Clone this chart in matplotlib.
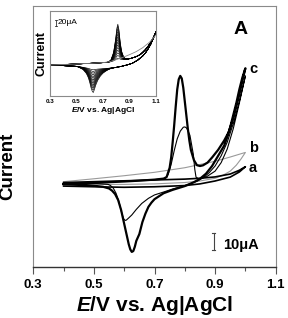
import numpy as np
import matplotlib
matplotlib.use("Agg")
import matplotlib.pyplot as plt

plt.rcParams['font.family'] = ['Liberation Sans', 'DejaVu Sans']
plt.rcParams['mathtext.fontset'] = 'custom'
plt.rcParams['mathtext.it'] = 'Liberation Sans:italic:bold'
plt.rcParams['mathtext.rm'] = 'Liberation Sans:bold'

# ---------------- main panel data (E in V, I in uA) ----------------
c_fwd_E = [0.40, 0.45, 0.50, 0.55, 0.60, 0.65, 0.70, 0.73, 0.74, 0.75, 0.755, 0.76, 0.765, 0.77,
           0.775, 0.78, 0.785, 0.79, 0.795, 0.80, 0.805, 0.81, 0.815, 0.82, 0.83, 0.84, 0.85,
           0.86, 0.875, 0.89, 0.91, 0.93, 0.945, 0.96, 0.97, 0.98, 0.99, 1.00]
c_fwd_I = [-0.5, -0.2, 0.1, 0.5, 0.9, 1.4, 2.0, 2.6, 3.5, 9, 15, 24, 34, 45,
           55, 61, 63, 61.5, 56, 48, 40, 32, 25, 19.5, 13.5, 10.5, 10,
           10.4, 12, 15, 19.5, 25, 30, 38, 45, 52, 60, 67.5]
c_rev_E = [1.00, 0.99, 0.98, 0.97, 0.96, 0.95, 0.94, 0.93, 0.91, 0.89, 0.87, 0.85, 0.83, 0.80,
           0.76, 0.73, 0.70, 0.69, 0.68, 0.67, 0.66, 0.65, 0.64, 0.635, 0.63, 0.625, 0.62,
           0.615, 0.61, 0.605, 0.60, 0.595, 0.59, 0.58, 0.57, 0.56, 0.55, 0.53, 0.50, 0.45, 0.40]
c_rev_I = [67.5, 62, 55, 47, 40, 33, 27, 22, 16, 10, 5.5, 2.5, 0.5, -1.8,
           -4, -6, -9.5, -11.5, -14, -18, -23, -30, -34, -37.5, -40, -40.5, -39,
           -36, -32, -28, -24, -20, -16, -10, -6.5, -4.5, -3.2, -2.2, -1.6, -1.1, -0.7]

t_fwd_E = [0.40, 0.50, 0.60, 0.70, 0.735, 0.745, 0.755, 0.765, 0.775, 0.785, 0.795, 0.80, 0.805,
           0.81, 0.817, 0.822, 0.828, 0.833, 0.837, 0.845, 0.87, 0.90, 0.92, 0.94, 0.96, 0.98, 1.00]
t_fwd_I = [-0.3, 0.3, 1.0, 2.0, 2.6, 5, 11, 19, 26, 30.5, 32.8, 33, 32.5,
           31, 28, 23, 17, 8, 3.5, 2.5, 3.5, 7, 12, 20, 32, 47, 63]
t_rev_E = [1.00, 0.98, 0.96, 0.94, 0.92, 0.90, 0.88, 0.86, 0.84, 0.80, 0.76, 0.735, 0.70, 0.68,
           0.658, 0.64, 0.625, 0.615, 0.607, 0.603, 0.598, 0.592, 0.587, 0.581, 0.573, 0.564,
           0.555, 0.547, 0.50, 0.40]
t_rev_I = [63, 48, 35, 24, 16, 10, 6, 3, 1, -1.5, -3.5, -5, -7, -9,
           -12, -15.5, -18.8, -20.5, -21.8, -22, -21, -17.8, -14, -10, -6, -3,
           -1.5, -0.8, -0.2, 0.0]

a_fwd_E = [0.40, 0.50, 0.60, 0.70, 0.80, 0.85, 0.90, 0.95, 0.98, 1.00]
a_fwd_I = [0.3, 0.8, 1.3, 1.8, 2.3, 2.8, 3.6, 5.3, 7.5, 9.6]
a_rev_E = [1.00, 0.98, 0.95, 0.90, 0.85, 0.80, 0.70, 0.60, 0.50, 0.40]
a_rev_I = [9.6, 6.5, 3.5, 1.2, -0.5, -1.5, -2.2, -2.5, -2.2, -1.8]

b_fwd_E = [0.40, 0.50, 0.60, 0.70, 0.80, 0.90, 0.95, 1.00]
b_fwd_I = [0.8, 2.5, 4.3, 6.3, 9.0, 12.8, 15.3, 18.0]
b_rev_E = [1.00, 0.985, 0.97, 0.95, 0.925, 0.90, 0.85, 0.80, 0.70, 0.60, 0.50, 0.40]
b_rev_I = [18.0, 14.0, 10.5, 7.0, 4.5, 2.8, 1.2, 0.3, -0.5, -0.8, -0.8, -0.6]

# ---------------- inset data ----------------
in_fwd_E = [0.30, 0.40, 0.50, 0.60, 0.70, 0.74, 0.76, 0.78, 0.795, 0.805, 0.812, 0.82, 0.83,
            0.84, 0.855, 0.87, 0.89, 0.92, 0.95, 0.98, 1.00, 1.02, 1.04, 1.06, 1.08, 1.10]
in_fwd_base = [0, 1.5, 3, 5, 7, 8.5, 9.5, 10.5, 11.3, 12, 12.4, 13, 13.7,
               14.5, 15.5, 16.5, 18, 21, 25, 31, 38, 46, 56, 68, 82, 100]
in_fwd_peak = [0, 0, 0, 0, 0, 0, 0.05, 0.25, 0.6, 0.9, 1.0, 0.85, 0.5,
               0.25, 0.08, 0.02, 0, 0, 0, 0, 0, 0, 0, 0, 0, 0]
in_rev_E = [1.10, 1.08, 1.06, 1.04, 1.02, 1.00, 0.96, 0.92, 0.88, 0.84, 0.80, 0.76, 0.74, 0.72,
            0.70, 0.68, 0.66, 0.645, 0.635, 0.627, 0.62, 0.61, 0.60, 0.59, 0.575, 0.55, 0.52,
            0.50, 0.40, 0.30]
in_rev_base = [100, 80, 62, 48, 36, 27, 14, 5, 0, -4, -7, -9, -9.5, -10,
               -10, -10, -9.8, -9.6, -9.5, -9.4, -9.2, -9, -8.6, -8.2, -7.6, -6.5, -5,
               -4, -2, -1]
in_rev_peak = [0, 0, 0, 0, 0, 0, 0, 0, 0, 0, 0, 0.02, 0.06, 0.12,
               0.2, 0.32, 0.5, 0.7, 0.88, 1.0, 0.97, 0.82, 0.6, 0.42, 0.25, 0.1, 0.03,
               0, 0, 0]
in_anodic_heights = [8, 16, 24, 32, 40, 48, 56, 64, 72, 80, 88, 96, 104, 110]
in_cathodic_depths = [5, 10, 15, 20, 25, 30, 35, 40, 45, 50, 55, 60, 66, 73]
in_first_E = [0.30, 0.50, 0.70, 0.75, 0.80, 0.85, 0.90, 0.95, 1.00, 1.05, 1.10]
in_first_I = [0, 3, 7, 10, 16, 23, 31, 40, 52, 68, 90]

x_major = [0.3, 0.5, 0.7, 0.9, 1.1]
x_minor = [0.4, 0.6, 0.8, 1.0]

# ---------------- figure ----------------
W, H = 288, 318
fig = plt.figure(figsize=(W / 100, H / 100), dpi=100)
ax = fig.add_axes([33.3 / W, 1 - 266.7 / H, (275.7 - 33.3) / W, (266.7 - 6) / H])
ax.set_xlim(0.3, 1.1)
ax.set_ylim(-49.2, 104.1)

ax.plot(b_fwd_E + b_rev_E, b_fwd_I + b_rev_I, color='#9a9a9a', lw=0.8)
ax.plot(a_fwd_E + a_rev_E, a_fwd_I + a_rev_I, color='black', lw=1.2)
ax.plot(t_fwd_E + t_rev_E, t_fwd_I + t_rev_I, color='black', lw=0.8)
ax.plot(c_fwd_E + c_rev_E, c_fwd_I + c_rev_I, color='black', lw=1.6)

for s in ['left', 'top', 'right']:
    ax.spines[s].set_color('#8a8a8a')
    ax.spines[s].set_linewidth(0.8)
ax.spines['bottom'].set_color('#333333')
ax.spines['bottom'].set_linewidth(1.0)
ax.set_yticks([])
ax.set_xticks(x_major)
ax.set_xticks(x_minor, minor=True)
ax.set_xticklabels([f"{v:.1f}" for v in x_major], fontsize=9.5, fontweight='bold')
ax.tick_params(axis='x', which='major', direction='out', length=5, width=0.8, pad=4, color='#555555')
ax.tick_params(axis='x', which='minor', direction='out', length=3, width=0.8, color='#555555')
ax.set_xlabel(r'$E$/V vs. Ag|AgCl', fontsize=15, fontweight='bold', labelpad=2)
fig.text(16 / W, 1 - 166.5 / H, 'Current', rotation=90, fontsize=13.5, fontweight='bold',
         ha='right', va='center')

ax.text(0.983, 90, 'A', fontsize=14, fontweight='bold', ha='center', va='center')
ax.text(1.012, 67, 'c', fontsize=10.5, fontweight='bold', ha='left', va='center')
ax.text(1.012, 20.6, 'b', fontsize=10.5, fontweight='bold', ha='left', va='center')
ax.text(1.012, 8.8, 'a', fontsize=10.5, fontweight='bold', ha='left', va='center')

# scale bar 10 uA
ax.plot([0.896, 0.896], [-29.4, -39.4], color='#444444', lw=0.8)
ax.plot([0.891, 0.901], [-29.4, -29.4], color='#444444', lw=0.8)
ax.plot([0.891, 0.901], [-39.4, -39.4], color='#444444', lw=0.8)
ax.text(0.925, -36.2, '10μA', fontsize=10.5, fontweight='bold', ha='left', va='center')

# ---------------- inset ----------------
ins = fig.add_axes([50 / W, 1 - 96 / H, 106 / W, 85 / H])
ins.set_xlim(0.3, 1.1)
ins.set_ylim(-93, 162)
fb = np.array(in_fwd_base)
fp = np.array(in_fwd_peak)
rb = np.array(in_rev_base)
rp = np.array(in_rev_peak)
for h, d in zip(in_anodic_heights, in_cathodic_depths):
    yy = np.concatenate([fb + h * fp, rb - d * rp])
    ins.plot(in_fwd_E + in_rev_E, yy, color='black', lw=0.45)
ins.plot(in_first_E, in_first_I, color='#888888', lw=0.6)
for s in ins.spines.values():
    s.set_color('#8a8a8a')
    s.set_linewidth(0.8)
ins.set_yticks([])
ins.set_xticks(x_major)
ins.set_xticklabels([f"{v:.1f}" for v in x_major], fontsize=4.5, fontweight='bold')
ins.tick_params(axis='x', length=0, pad=2)
ins.set_xlabel(r'$E$/V vs. Ag|AgCl', fontsize=6, fontweight='bold', labelpad=1)
ins.set_ylabel('Current', fontsize=9, fontweight='bold', labelpad=2)
# scale bar 20 uA
ins.plot([0.345, 0.345], [116, 136], color='#333333', lw=0.6)
ins.plot([0.335, 0.355], [116, 116], color='#333333', lw=0.6)
ins.plot([0.335, 0.355], [136, 136], color='#333333', lw=0.6)
ins.text(0.36, 126, '20μA', fontsize=6, ha='left', va='center')

fig.savefig('out.png', dpi=100)
